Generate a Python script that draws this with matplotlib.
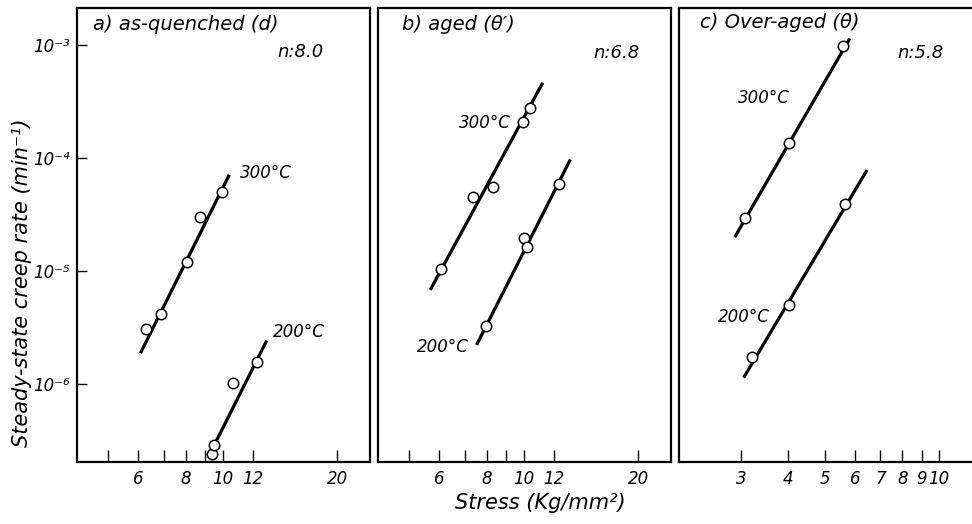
import matplotlib
matplotlib.use('Agg')
import matplotlib.pyplot as plt

# -- data (stress in Kg/mm2, creep rate in 1/min) --
# a) as-quenched
a300_s = [6.27, 6.87, 8.07, 8.72, 9.94]
a300_r = [3.06e-6, 4.19e-6, 1.2e-5, 2.99e-5, 4.99e-5]
a300_fit_s = [6.08, 10.41]
a300_fit_r = [1.88e-6, 7.13e-5]
a200_s = [9.37, 9.51, 10.67, 12.33]
a200_r = [2.42e-7, 2.9e-7, 1.02e-6, 1.58e-6]
a200_fit_s = [9.61, 13.06]
a200_fit_r = [3.11e-7, 2.43e-6]

# b) aged
b300_s = [6.06, 7.38, 8.32, 9.94, 10.39]
b300_r = [1.04e-5, 4.56e-5, 5.52e-5, 2.1e-4, 2.79e-4]
b300_fit_s = [5.68, 11.22]
b300_fit_r = [6.82e-6, 4.65e-4]
b200_s = [7.96, 10.04, 10.2, 12.41]
b200_r = [3.27e-6, 1.95e-5, 1.62e-5, 5.86e-5]
b200_fit_s = [7.52, 13.27]
b200_fit_r = [2.22e-6, 9.75e-5]

# c) over-aged
c300_s = [3.07, 4.02, 5.58]
c300_r = [2.94e-5, 1.37e-4, 9.8e-4]
c300_fit_s = [2.89, 5.81]
c300_fit_r = [2.0e-5, 1.15e-3]
c200_s = [3.2, 4.02, 5.63]
c200_r = [1.75e-6, 5.03e-6, 3.93e-5]
c200_fit_s = [3.05, 6.45]
c200_fit_r = [1.14e-6, 7.85e-5]

ab_major = [6, 8, 10, 12, 20]
ab_minor = [5, 7, 9]
c_major = [3, 4, 5, 6, 7, 8, 9, 10]
y_ticks = [1e-6, 1e-5, 1e-4, 1e-3]
y_labels = ['10⁻⁶', '10⁻⁵', '10⁻⁴', '10⁻³']

plt.rcParams['font.family'] = ['DejaVu Sans']
plt.rcParams['font.style'] = 'italic'

W, H = 972, 524
fig = plt.figure(figsize=(9.72, 5.24), dpi=100)

def px(x0, y0, x1, y1):
    # pixel box -> figure fraction rect
    return [x0 / W, 1 - y1 / H, (x1 - x0) / W, (y1 - y0) / H]

ax_a = fig.add_axes(px(77, 8, 370, 462))
ax_b = fig.add_axes(px(378, 8, 671, 462))
ax_c = fig.add_axes(px(679, 8, 972, 462))

ylo, yhi = 10 ** -6.69, 10 ** -2.67

def draw(ax, pts, fits, xlim, major, minor):
    ax.set_xscale('log')
    ax.set_yscale('log')
    for s, r in fits:
        ax.plot(s, r, color='black', lw=2.3, solid_capstyle='butt')
    for s, r in pts:
        ax.plot(s, r, 'o', ms=7.5, mfc='white', mec='black', mew=1.1, clip_on=False)
    ax.set_xlim(*xlim)
    ax.set_ylim(ylo, yhi)
    ax.set_xticks(major)
    ax.set_xticklabels([str(m) for m in major], fontsize=12, style='italic')
    ax.set_xticks(minor, minor=True)
    ax.xaxis.set_minor_formatter(plt.NullFormatter())
    ax.tick_params(axis='x', which='both', direction='in', length=9, width=1.0,
                   top=False, pad=6)
    for sp in ax.spines.values():
        sp.set_linewidth(1.6)

draw(ax_a, [(a300_s, a300_r), (a200_s, a200_r)],
     [(a300_fit_s, a300_fit_r), (a200_fit_s, a200_fit_r)],
     (4.14, 24.4), ab_major, ab_minor)
draw(ax_b, [(b300_s, b300_r), (b200_s, b200_r)],
     [(b300_fit_s, b300_fit_r), (b200_fit_s, b200_fit_r)],
     (4.14, 24.4), ab_major, ab_minor)
draw(ax_c, [(c300_s, c300_r), (c200_s, c200_r)],
     [(c300_fit_s, c300_fit_r), (c200_fit_s, c200_fit_r)],
     (2.06, 12.2), c_major, [])
ax_c.spines['right'].set_visible(False)

ax_a.set_yticks(y_ticks)
ax_a.set_yticklabels(y_labels, fontsize=12, style='italic')
ax_a.yaxis.set_minor_locator(plt.NullLocator())
ax_a.tick_params(axis='y', direction='in', length=7, width=1.0, pad=5, right=False)
for ax in (ax_b, ax_c):
    ax.set_yticks([])
    ax.yaxis.set_minor_locator(plt.NullLocator())

# temperature labels
fs = 12
ax_a.text(11.1, 7.4e-5, '300°C', fontsize=fs, ha='left', va='center')
ax_a.text(13.57, 2.9e-6, '200°C', fontsize=fs, ha='left', va='center')
ax_b.text(9.28, 2.06e-4, '300°C', fontsize=fs, ha='right', va='center')
ax_b.text(7.19, 2.14e-6, '200°C', fontsize=fs, ha='right', va='center')
ax_c.text(2.95, 3.4e-4, '300°C', fontsize=fs, ha='left', va='center')
ax_c.text(2.61, 3.94e-6, '200°C', fontsize=fs, ha='left', va='center')

# panel titles and stress exponents
ts = 14
fig.text(93 / W, 1 - 25 / H, 'a) as-quenched (d)', fontsize=ts, ha='left', va='center')
fig.text(277 / W, 1 - 52 / H, 'n:8.0', fontsize=13, ha='left', va='center')
fig.text(402 / W, 1 - 25 / H, "b) aged (θ′)", fontsize=ts, ha='left', va='center')
fig.text(593 / W, 1 - 53 / H, 'n:6.8', fontsize=13, ha='left', va='center')
fig.text(700 / W, 1 - 22 / H, 'c) Over-aged (θ)', fontsize=ts, ha='left', va='center')
fig.text(897 / W, 1 - 53 / H, 'n:5.8', fontsize=13, ha='left', va='center')

fig.text(22 / W, 1 - 283 / H, 'Steady-state creep rate (min⁻¹)', fontsize=15,
         rotation=90, ha='center', va='center')
fig.text(540 / W, 1 - 503 / H, 'Stress (Kg/mm²)', fontsize=15, ha='center', va='center')

fig.savefig('out.png', dpi=100)
